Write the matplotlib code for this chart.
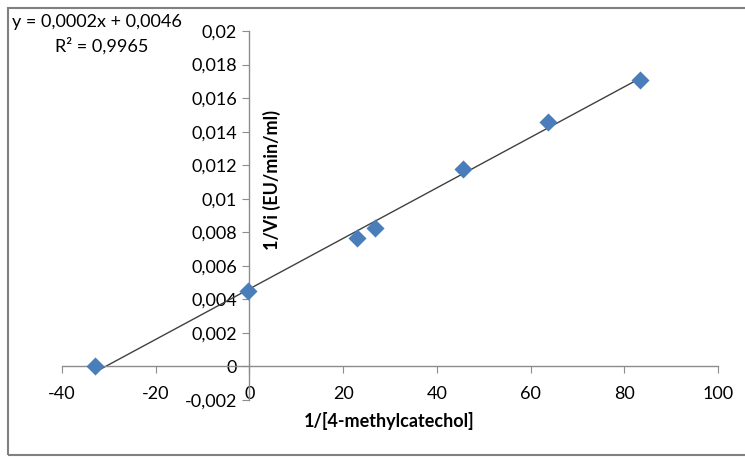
import numpy as np
import matplotlib.pyplot as plt
from matplotlib.patches import Rectangle
from matplotlib.ticker import FuncFormatter

plt.rcParams['font.family'] = ['Lato', 'DejaVu Sans']

# 1/[S] and 1/Vi values
inv_s = [-32.9, -0.3, 22.9, 26.7, 45.6, 63.7, 83.4]
inv_v = [0.0, 0.00448, 0.00764, 0.00824, 0.0118, 0.0146, 0.0171]
x_ticks = [-40, -20, 0, 20, 40, 60, 80, 100]
y_ticks = [-0.002, 0, 0.002, 0.004, 0.006, 0.008, 0.01, 0.012, 0.014,
           0.016, 0.018, 0.02]

fig = plt.figure(figsize=(7.45, 4.57), dpi=100)
W, H = 745, 457
ax = fig.add_axes([62 / W, 1 - 400 / H, (718 - 62) / W, (400 - 31) / H])

# trendline from a linear fit
k, b = np.polyfit(inv_s, inv_v, 1)
xl = np.array([min(inv_s), max(inv_s)])
ax.plot(xl, k * xl + b, color='#404040', lw=1.0, zorder=2)
ax.scatter(inv_s, inv_v, marker='D', s=85, color='#4a7ebb', zorder=3,
           linewidths=0)

ax.set_xlim(-40, 100)
ax.set_ylim(-0.002, 0.02)
ax.set_xticks(x_ticks)
ax.set_yticks(y_ticks)

fmt = FuncFormatter(lambda v, p: ('%g' % round(v, 4)).replace('.', ','))
ax.xaxis.set_major_formatter(fmt)
ax.yaxis.set_major_formatter(fmt)

for s in ['top', 'right']:
    ax.spines[s].set_visible(False)
ax.spines['left'].set_position(('data', 0))
ax.spines['bottom'].set_position(('data', 0))
for s in ['left', 'bottom']:
    ax.spines[s].set_color('#8c8c8c')
    ax.spines[s].set_linewidth(1.0)
ax.tick_params(axis='both', colors='#8c8c8c', labelcolor='black',
               labelsize=13, length=5, direction='out')
ax.tick_params(axis='x', pad=9)
ax.tick_params(axis='y', pad=4)

fig.text(389 / W, 1 - 421 / H, '1/[4-methylcatechol]', ha='center',
         va='center', fontsize=13, fontweight='bold')
fig.text(272 / W, 1 - 180 / H, '1/Vi (EU/min/ml)', ha='center',
         va='center', rotation=90, fontsize=13, fontweight='bold')

fig.text(12 / W, 1 - 22 / H, 'y = 0,0002x + 0,0046', ha='left',
         va='center', fontsize=13)
fig.text(55 / W, 1 - 46 / H, 'R² = 0,9965', ha='left', va='center',
         fontsize=13)

fig.patches.append(Rectangle((8 / W, 1 - 455 / H), 1.0, 447 / H,
                             transform=fig.transFigure, fill=False,
                             edgecolor='#808080', lw=1.5))

fig.savefig('out.png', dpi=100)
